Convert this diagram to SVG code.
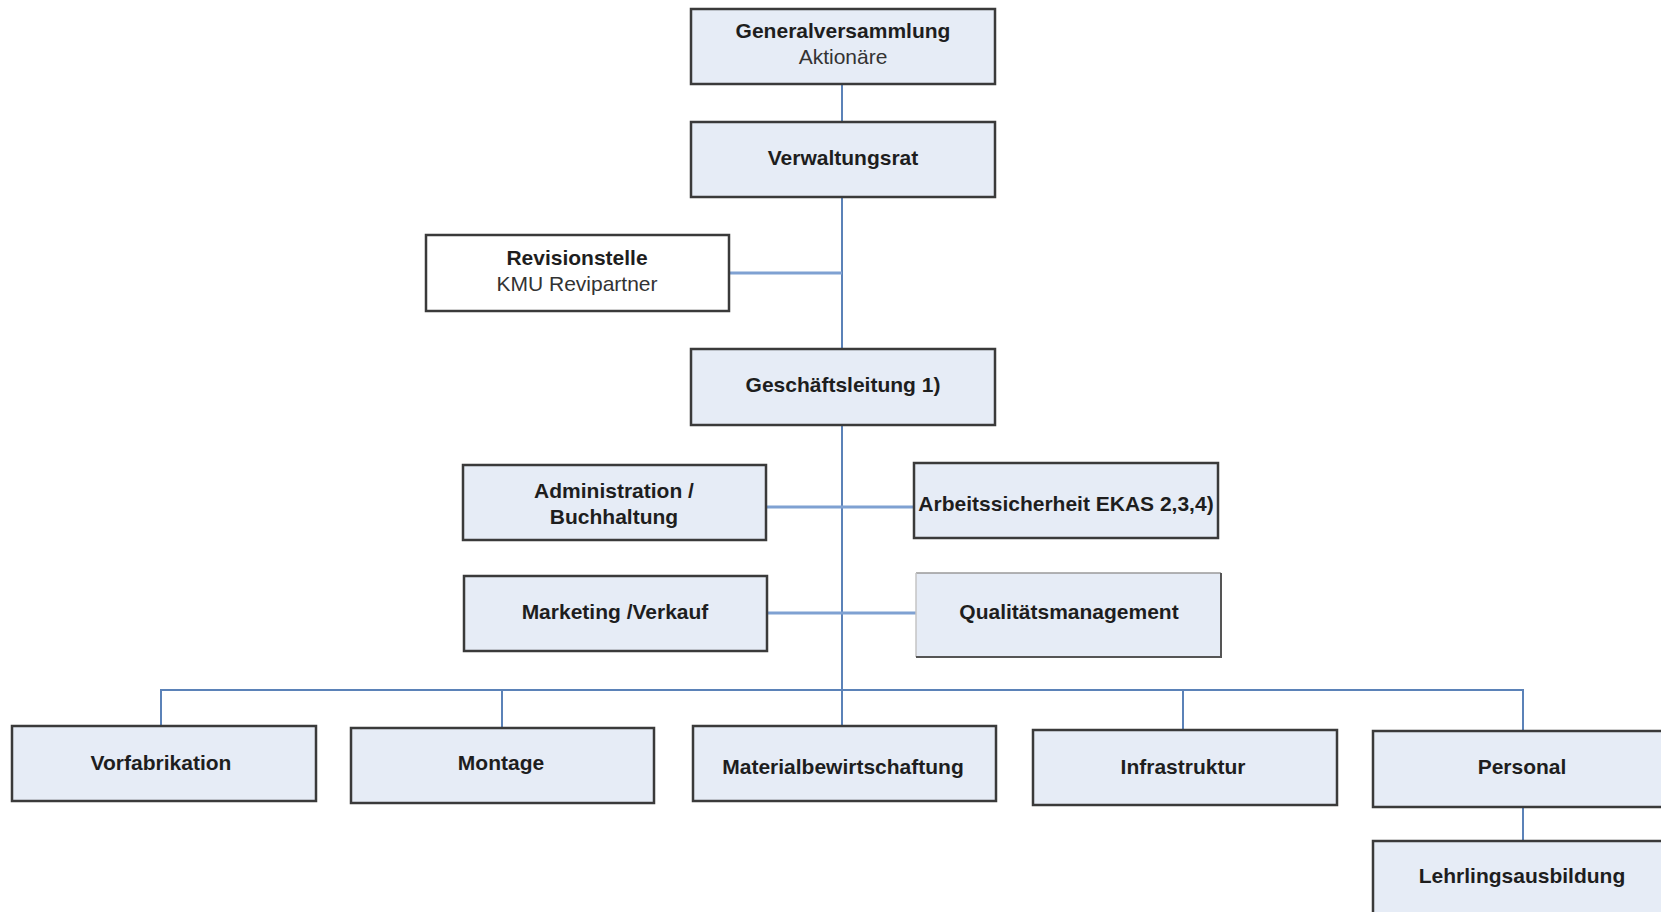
<svg xmlns="http://www.w3.org/2000/svg" width="1661" height="912" viewBox="0 0 1661 912">
<style>
.box{fill:#e6ecf6;stroke:#3a3a3a;stroke-width:2.5}
.w{fill:#ffffff}
.t{font-family:"Liberation Sans",Arial,sans-serif;font-size:21px;font-weight:bold;fill:#1e1e1e;text-anchor:middle}
.r{font-weight:normal;fill:#333}
.c{fill:none;stroke:#5b82b8;stroke-width:2}
.c2{fill:none;stroke:#7fa1d2;stroke-width:3}
.sh{fill:#c8c8c8}
</style>
<g id="connectors">
<line class="c" x1="842" y1="84" x2="842" y2="122"/>
<line class="c" x1="842" y1="197" x2="842" y2="348"/>
<line class="c2" x1="729" y1="273" x2="842" y2="273"/>
<line class="c" x1="842" y1="425" x2="842" y2="726"/>
<line class="c2" x1="766" y1="507" x2="914" y2="507"/>
<line class="c2" x1="767" y1="613" x2="916" y2="613"/>
<polyline class="c" points="161,726 161,690 1523,690 1523,731"/>
<line class="c" x1="502" y1="690" x2="502" y2="728"/>
<line class="c" x1="1183" y1="690" x2="1183" y2="730"/>
<line class="c" x1="1523" y1="807" x2="1523" y2="841"/>
</g>
<g id="generalversammlung">
<rect class="box" x="691" y="9" width="304" height="75"/>
<text class="t" x="843" y="38">Generalversammlung</text>
<text class="t r" x="843" y="64">Aktionäre</text>
</g>
<g id="verwaltungsrat">
<rect class="box" x="691" y="122" width="304" height="75"/>
<text class="t" x="843" y="165">Verwaltungsrat</text>
</g>
<g id="revisionstelle">
<rect class="box w" x="426" y="235" width="303" height="76"/>
<text class="t" x="577" y="265">Revisionstelle</text>
<text class="t r" x="577" y="291">KMU Revipartner</text>
</g>
<g id="geschaeftsleitung">
<rect class="box" x="691" y="349" width="304" height="76"/>
<text class="t" x="843" y="392">Geschäftsleitung 1)</text>
</g>
<g id="administration">
<rect class="box" x="463" y="465" width="303" height="75"/>
<text class="t" x="614" y="498">Administration /</text>
<text class="t" x="614" y="524">Buchhaltung</text>
</g>
<g id="arbeitssicherheit">
<rect class="box" x="914" y="463" width="304" height="75"/>
<text class="t" x="1066" y="511">Arbeitssicherheit EKAS 2,3,4)</text>
</g>
<g id="marketing">
<rect class="box" x="464" y="576" width="303" height="75"/>
<text class="t" x="615" y="619">Marketing /Verkauf</text>
</g>
<g id="qualitaetsmanagement">
<rect x="916" y="573" width="305" height="84" fill="#e6ecf6"/>
<line x1="916" y1="573" x2="1221" y2="573" stroke="#9a9a9a" stroke-width="1.5"/>
<line x1="916" y1="573" x2="916" y2="657" stroke="#c4c4c4" stroke-width="1.5"/>
<polyline points="1221,573 1221,657 916,657" fill="none" stroke="#555" stroke-width="2"/>
<text class="t" x="1069" y="619">Qualitätsmanagement</text>
</g>
<g id="vorfabrikation">
<rect class="box" x="12" y="726" width="304" height="75"/>
<text class="t" x="161" y="770">Vorfabrikation</text>
</g>
<g id="montage">
<rect class="box" x="351" y="728" width="303" height="75"/>
<text class="t" x="501" y="770">Montage</text>
</g>
<g id="materialbewirtschaftung">
<rect class="box" x="693" y="726" width="303" height="75"/>
<text class="t" x="843" y="774">Materialbewirtschaftung</text>
</g>
<g id="infrastruktur">
<rect class="box" x="1033" y="730" width="304" height="75"/>
<text class="t" x="1183" y="774">Infrastruktur</text>
</g>
<g id="personal">
<rect class="box" x="1373" y="731" width="304" height="76"/>
<text class="t" x="1522" y="774">Personal</text>
</g>
<g id="lehrlingsausbildung">
<rect class="box" x="1373" y="841" width="304" height="80"/>
<text class="t" x="1522" y="883">Lehrlingsausbildung</text>
</g>
</svg>
